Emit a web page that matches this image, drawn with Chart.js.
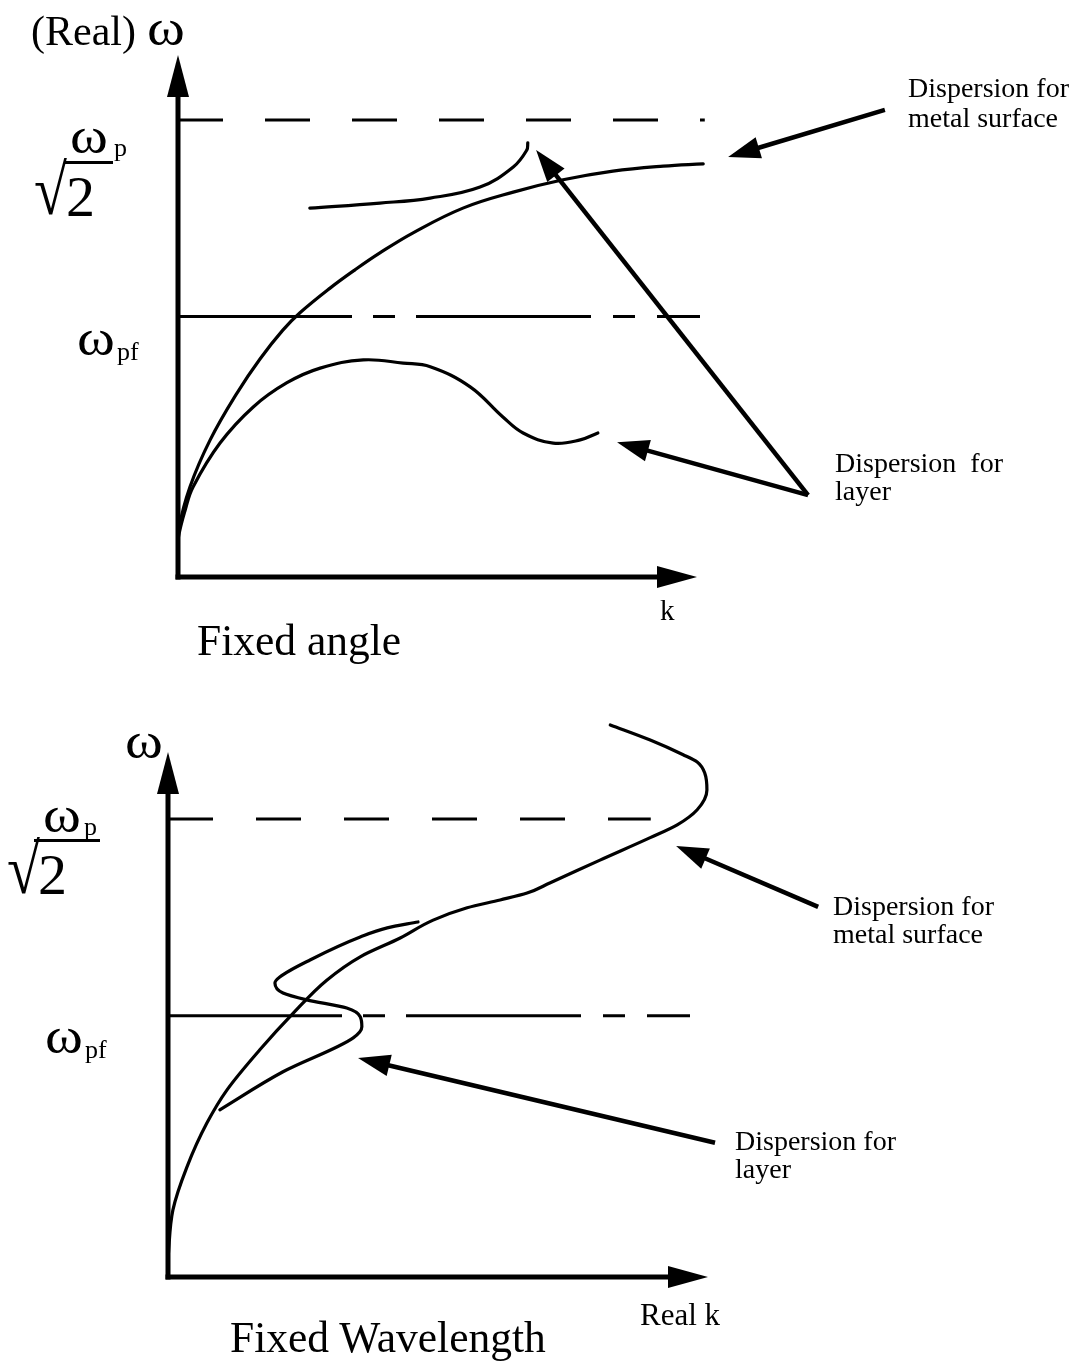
<!DOCTYPE html>
<html>
<head>
<meta charset="utf-8">
<script src="https://cdn.jsdelivr.net/npm/chart.js@4.4.1/dist/chart.umd.min.js"></script>
<style>
  html, body { margin: 0; padding: 0; background: #fff; }
  #page { position: relative; width: 1076px; height: 1366px; overflow: hidden;
          font-family: "Liberation Serif", "Times New Roman", serif; color: #000; }
  #page canvas { position: absolute; left: 0; }
  .t { position: absolute; white-space: pre; line-height: 1; }
  .bar { position: absolute; background: #000; }
</style>
</head>
<body>
<div id="page">
  <canvas id="fixedAngle" width="1076" height="683" style="top:0"></canvas>
  <canvas id="fixedWavelength" width="1076" height="683" style="top:683px"></canvas>
</div>
<script>
// ---- Fixed angle panel (k in arbitrary units, ω in units of ωp/√2) ----
const angleMetalK = [0, 0.01, 0.23, 0.62, 1.14, 1.58, 2.02, 2.35, 2.93, 3.41, 3.89, 4.53, 5.49, 6.46, 7.42, 8.38, 9.35, 10.12];
const angleMetalW = [0.059, 0.103, 0.197, 0.300, 0.403, 0.477, 0.540, 0.578, 0.632, 0.672, 0.709, 0.753, 0.807, 0.842, 0.869, 0.888, 0.899, 0.904];

const angleLayerLowK = [0, 0.01, 0.14, 0.29, 0.81, 1.45, 2.10, 2.74, 3.57, 4.34, 4.86, 5.63, 6.26, 6.65, 7.23, 7.75, 8.09];
const angleLayerLowW = [0.059, 0.088, 0.147, 0.197, 0.293, 0.372, 0.425, 0.457, 0.475, 0.468, 0.460, 0.416, 0.350, 0.315, 0.293, 0.300, 0.315];

const angleLayerHighK = [2.54, 3.89, 4.86, 5.82, 6.46, 6.72, 6.74];
const angleLayerHighW = [0.807, 0.818, 0.829, 0.853, 0.897, 0.934, 0.950];

// reference levels: ωp/√2 and ωpf, with the k range each line spans
const levelSurface = 1.0;
const levelLayer = 0.57;
const angleSurfaceSpan = [0, 10.15];
const angleLayerSpan = [0, 10.06];

// annotation arrows [k, ω]: tails at the captions, tips at the curves
const angleArrowTail = [[13.62, 1.022], [12.14, 0.179], [12.14, 0.179]];
const angleArrowTip  = [[10.60, 0.919], [6.90, 0.934], [8.46, 0.295]];

// ---- Fixed wavelength panel (listed by rising ω) ----
const waveMetalK = [0, 0.09, 0.35, 0.72, 1.09, 1.70, 2.32, 2.94, 3.56, 4.30, 4.91, 5.54, 6.15, 6.65, 7.07, 8.00, 8.93, 9.43, 9.80, 9.98, 9.94, 9.80, 9.54, 8.93, 8.19];
const waveMetalW = [0.041, 0.146, 0.240, 0.336, 0.408, 0.496, 0.576, 0.648, 0.699, 0.740, 0.779, 0.806, 0.823, 0.838, 0.860, 0.910, 0.959, 0.987, 1.020, 1.063, 1.100, 1.124, 1.140, 1.172, 1.205];

const waveLayerK = [0.96, 2.13, 3.43, 3.59, 3.56, 3.31, 2.57, 2.13, 1.98, 2.07, 2.63, 3.56, 4.06, 4.63];
const waveLayerW = [0.365, 0.448, 0.522, 0.546, 0.568, 0.587, 0.605, 0.620, 0.642, 0.655, 0.692, 0.742, 0.762, 0.775];

const waveSurfaceSpan = [0, 8.94];
const waveLayerSpan = [0, 9.80];

const waveArrowTail = [[12.04, 0.808], [10.13, 0.293]];
const waveArrowTip  = [[9.41, 0.941], [3.52, 0.478]];

// ---- helpers ----
const pts = (ks, ws) => ks.map((k, i) => ({ x: k, y: ws[i] }));
const level = (span, w) => [{ x: span[0], y: w }, { x: span[1], y: w }];

// smooth curve through k-ordered points
function curve(data) {
  return { data, borderColor: '#000', borderWidth: 3.2, tension: 0.4,
           pointRadius: 0, clip: false, borderCapStyle: 'round', borderJoinStyle: 'round' };
}
// curve that folds back in k: monotone interpolation along ω instead
function foldedCurve(data) {
  return { data: data.slice().reverse(), borderColor: '#000', borderWidth: 3.2,
           cubicInterpolationMode: 'monotone', pointRadius: 0, clip: false,
           borderCapStyle: 'round', borderJoinStyle: 'round' };
}
function dashed(data, dash) {
  return { data, borderColor: '#000', borderWidth: 3, tension: 0,
           pointRadius: 0, clip: false, borderDash: dash, borderCapStyle: 'butt' };
}

function arrowHead(ctx, x0, y0, x1, y1, len, half) {
  const dx = x1 - x0, dy = y1 - y0, d = Math.hypot(dx, dy);
  const ux = dx / d, uy = dy / d, px = -uy, py = ux;
  const bx = x1 - ux * len, by = y1 - uy * len;
  ctx.beginPath();
  ctx.moveTo(x0, y0);
  ctx.lineTo(x1 - ux * len * 0.7, y1 - uy * len * 0.7);
  ctx.stroke();
  ctx.beginPath();
  ctx.moveTo(x1, y1);
  ctx.lineTo(bx + px * half, by + py * half);
  ctx.lineTo(bx - px * half, by - py * half);
  ctx.closePath();
  ctx.fill();
}

// axes with arrowheads plus the caption arrows
const arrowPlugin = {
  id: 'arrows',
  afterDatasetsDraw(chart, args, opts) {
    const { ctx, chartArea: a, scales: { x, y } } = chart;
    ctx.save();
    ctx.strokeStyle = '#000';
    ctx.fillStyle = '#000';
    ctx.lineCap = 'butt';
    ctx.lineWidth = 5;
    arrowHead(ctx, a.left, a.bottom + 2.5, a.left, a.top, 42, 11);
    arrowHead(ctx, a.left - 2.5, a.bottom, a.right, a.bottom, 40, 11);
    ctx.lineWidth = 4.5;
    opts.tails.forEach((t, i) => {
      const h = opts.tips[i];
      arrowHead(ctx, x.getPixelForValue(t[0]), y.getPixelForValue(t[1]),
                x.getPixelForValue(h[0]), y.getPixelForValue(h[1]), 32, 11);
    });
    ctx.restore();
  }
};

const layerDash = [174, 21, 22, 21, 175, 22, 22, 22, 43, 60];

function makeChart(id, datasets, box, wMax, indexAxis, tails, tips) {
  return new Chart(document.getElementById(id), {
    type: 'line',
    data: { datasets },
    options: {
      indexAxis,
      responsive: false,
      animation: false,
      devicePixelRatio: 1,
      layout: { padding: { left: box.left, right: 1076 - box.right, top: box.top, bottom: 683 - box.bottom } },
      elements: { line: { capBezierPoints: false } },
      scales: {
        x: { type: 'linear', min: 0, max: 10, display: false },
        y: { type: 'linear', min: 0, max: wMax, display: false }
      },
      plugins: { legend: { display: false }, tooltip: { enabled: false },
                 arrows: { tails, tips } },
      events: []
    },
    plugins: [arrowPlugin]
  });
}

makeChart('fixedAngle', [
  dashed(level(angleSurfaceSpan, levelSurface), [45, 42]),
  dashed(level(angleLayerSpan, levelLayer), layerDash),
  curve(pts(angleMetalK, angleMetalW)),
  curve(pts(angleLayerLowK, angleLayerLowW)),
  curve(pts(angleLayerHighK, angleLayerHighW))
], { left: 178, right: 697, top: 55, bottom: 577 }, 1.142, 'x', angleArrowTail, angleArrowTip);

makeChart('fixedWavelength', [
  dashed(level(waveSurfaceSpan, levelSurface), [45, 43]),
  dashed(level(waveLayerSpan, levelLayer), layerDash),
  foldedCurve(pts(waveMetalK, waveMetalW)),
  foldedCurve(pts(waveLayerK, waveLayerW))
], { left: 168, right: 708, top: 69, bottom: 594 }, 1.146, 'y', waveArrowTail, waveArrowTip);

// ---- text ----
const page = document.getElementById('page');
function text(str, left, baseline, size, extra) {
  const el = document.createElement('div');
  el.className = 't';
  el.textContent = str;
  el.style.left = left + 'px';
  el.style.top = (baseline - 0.8375 * size) + 'px';
  el.style.fontSize = size + 'px';
  if (extra) Object.assign(el.style, extra);
  page.appendChild(el);
  return el;
}
function bar(left, top, width, height) {
  const el = document.createElement('div');
  el.className = 'bar';
  Object.assign(el.style, { left: left + 'px', top: top + 'px', width: width + 'px', height: height + 'px' });
  page.appendChild(el);
}
const omega = { transformOrigin: 'left bottom', transform: 'scaleX(1.15)' };
const radical = { transformOrigin: 'left bottom', transform: 'scaleY(1.18)' };

// Fixed angle labels
text('(Real)', 31, 45, 42);
text('ω', 147, 45, 50, omega);
text('ω', 70, 153, 50, omega);
text('p', 114, 157, 26);
bar(64, 161, 49, 2.5);
text('√', 34, 216, 60, radical);
text('2', 66, 217, 58);
text('ω', 77, 355, 50, omega);
text('pf', 117, 361, 26);
text('Dispersion for', 908, 97, 28);
text('metal surface', 908, 127, 28);
text('Dispersion  for', 835, 472, 28);
text('layer', 835, 500, 28);
text('k', 660, 620, 29);
text('Fixed angle', 197, 655, 43.5);

// Fixed wavelength labels
text('ω', 125, 758, 50, omega);
text('ω', 43, 832, 50, omega);
text('p', 84, 836, 26);
bar(34, 839, 66, 2.5);
text('√', 7, 895, 60, radical);
text('2', 38, 895, 58);
text('ω', 45, 1053, 50, omega);
text('pf', 85, 1059, 26);
text('Dispersion for', 833, 915, 28);
text('metal surface', 833, 943, 28);
text('Dispersion for', 735, 1150, 28);
text('layer', 735, 1178, 28);
text('Real k', 640, 1325, 31);
text('Fixed Wavelength', 230, 1352, 43.5);
</script>
</body>
</html>
